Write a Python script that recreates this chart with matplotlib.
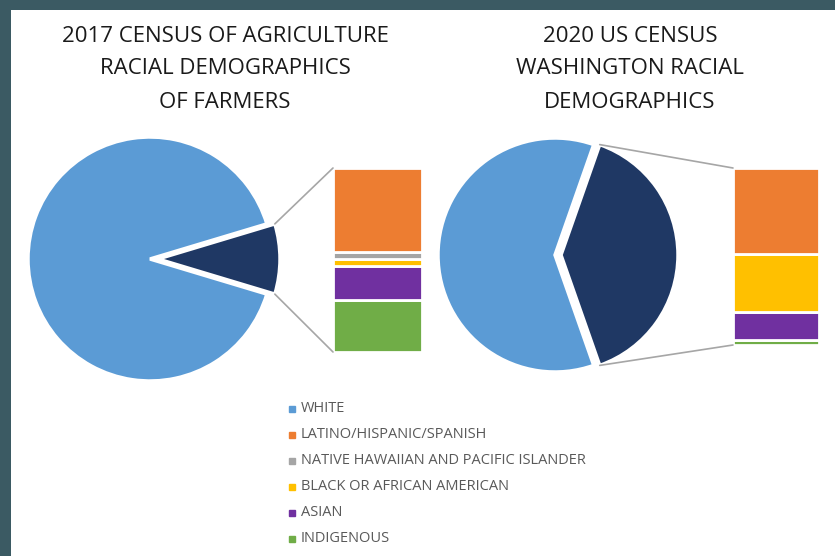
import numpy as np
import matplotlib.pyplot as plt
from matplotlib.patches import Rectangle, ConnectionPatch

# data
groups = ['WHITE', 'LATINO/HISPANIC/SPANISH', 'NATIVE HAWAIIAN AND PACIFIC ISLANDER',
          'BLACK OR AFRICAN AMERICAN', 'ASIAN', 'INDIGENOUS']
colors = ['#5b9bd5', '#ed7d31', '#a5a5a5', '#ffc000', '#7030a0', '#70ad47']
navy = '#1f3864'

farmers_2017 = [90.7, 4.24, 0.33, 0.37, 1.72, 2.63]
washington_2020 = [60.8, 19.1, 0.0, 12.9, 6.2, 1.1]

title_2017 = ['2017 CENSUS OF AGRICULTURE', 'RACIAL DEMOGRAPHICS', 'OF FARMERS']
title_2020 = ['2020 US CENSUS', 'WASHINGTON RACIAL', 'DEMOGRAPHICS']

W, H = 835, 556
fig = plt.figure(figsize=(W / 100, H / 100), dpi=100)
fig.patch.set_facecolor('#3b5a63')
ax = fig.add_axes([0, 0, 1, 1])
ax.set_xlim(0, W)
ax.set_ylim(0, H)
ax.axis('off')
ax.add_patch(Rectangle((11, 0), W - 11, H - 10, facecolor='white', edgecolor='none', zorder=0))


def pie_of_bar(values, center, r, explode, bar_box, title, title_x):
    white = values[0]
    rest = values[1:]
    other = sum(rest)
    ang = other / (white + other) * 360
    # main pie: white + "other" slice (pulled out)
    ax.pie([white, other], colors=[colors[0], navy], center=center, radius=r,
           startangle=ang / 2, explode=[0, explode], frame=True,
           wedgeprops=dict(edgecolor='white', linewidth=2.5))

    # stacked bar for the "other" slice
    x0, y0, bw, bh = bar_box
    bax = fig.add_axes([x0 / W, (H - y0 - bh) / H, bw / W, bh / H])
    bottom = 0
    for v, c in list(zip(rest, colors[1:]))[::-1]:
        if v > 0:
            bax.bar(0, v, width=1, bottom=bottom, color=c, edgecolor='white', linewidth=2)
        bottom += v
    bax.set_xlim(-0.5, 0.5)
    bax.set_ylim(0, other)
    bax.axis('off')

    # connector lines
    cx, cy = center[0] + explode, center[1]
    for sgn, yb in [(1, other), (-1, 0)]:
        a = np.radians(sgn * ang / 2)
        p = (cx + r * np.cos(a), cy + r * np.sin(a))
        con = ConnectionPatch(xyA=p, coordsA=ax.transData, xyB=(-0.5, yb), coordsB=bax.transData,
                              color='#a6a6a6', linewidth=1.2, zorder=5)
        fig.add_artist(con)

    for i, line in enumerate(title):
        ax.text(title_x, H - 36 - 33 * i, line, ha='center', va='center',
                fontsize=16, color='#1a1a1a', family='Open Sans')


pie_of_bar(farmers_2017, (150, H - 259), 122, 8, (333, 168, 89, 184), title_2017, 225)
pie_of_bar(washington_2020, (555, H - 255), 117, 6, (733, 168, 86, 177), title_2020, 630)

# legend
for i, (g, c) in enumerate(zip(groups, colors)):
    y = H - 409 - 26 * i
    ax.plot(292, y, marker='s', markersize=4.5, color=c, linestyle='none')
    ax.text(301, y, g, ha='left', va='center', fontsize=10.5, color='#595959', family='Open Sans')

fig.savefig('out.png', dpi=100, facecolor=fig.get_facecolor())
